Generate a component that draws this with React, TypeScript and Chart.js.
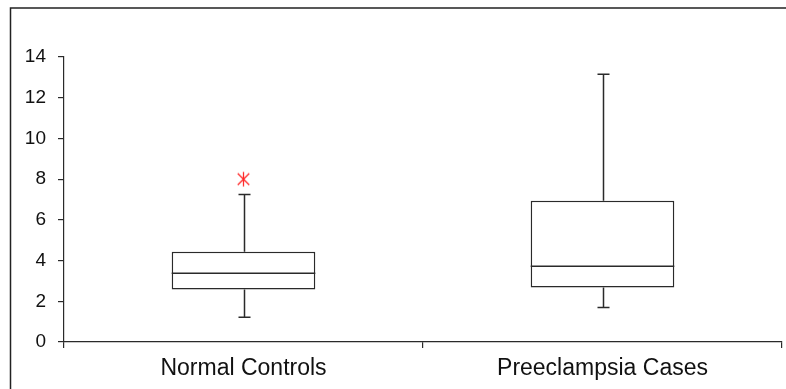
import React, { useEffect, useRef } from "react";
import { Chart, registerables } from "chart.js";

Chart.register(...registerables);

const categories = ["Normal Controls", "Preeclampsia Cases"];
const whiskerLow = [1.22, 1.7];
const q1 = [2.58, 2.68];
const median = [3.38, 3.72];
const q3 = [4.43, 6.94];
const whiskerHigh = [7.24, 13.15];
const outliers = [8.0, null];
const yTicks = [0, 2, 4, 6, 8, 10, 12, 14];

const FONT = "'Liberation Sans', Arial, sans-serif";
const LINE = "#2a2a2a";

function makeAsterisk(): HTMLCanvasElement {
  const c = document.createElement("canvas");
  const s = 17;
  c.width = s;
  c.height = s;
  const ctx = c.getContext("2d")!;
  ctx.strokeStyle = "#ff2a2a";
  ctx.lineWidth = 1.3;
  const m = s / 2;
  const r = 7.2;
  ctx.beginPath();
  ctx.moveTo(m, m - r);
  ctx.lineTo(m, m + r);
  const d = r * 0.8;
  ctx.moveTo(m - d, m - d);
  ctx.lineTo(m + d, m + d);
  ctx.moveTo(m + d, m - d);
  ctx.lineTo(m - d, m + d);
  ctx.stroke();
  return c;
}

const boxPlugin = {
  id: "boxWhiskers",
  afterDatasetsDraw(chart: any) {
    const meta = chart.getDatasetMeta(0);
    const y = chart.scales.y;
    const ctx = chart.ctx;
    ctx.save();
    ctx.strokeStyle = LINE;
    ctx.lineWidth = 1.5;
    meta.data.forEach((el: any, i: number) => {
      const cx = Math.round(el.x) + 0.5;
      const half = el.width / 2;
      const cap = 6;
      const pMed = y.getPixelForValue(median[i]);
      const pQ1 = y.getPixelForValue(q1[i]);
      const pQ3 = y.getPixelForValue(q3[i]);
      const pLo = y.getPixelForValue(whiskerLow[i]);
      const pHi = y.getPixelForValue(whiskerHigh[i]);
      ctx.beginPath();
      ctx.moveTo(el.x - half, pMed);
      ctx.lineTo(el.x + half, pMed);
      ctx.moveTo(cx, pQ3);
      ctx.lineTo(cx, pHi);
      ctx.moveTo(cx - cap, pHi);
      ctx.lineTo(cx + cap, pHi);
      ctx.moveTo(cx, pQ1);
      ctx.lineTo(cx, pLo);
      ctx.moveTo(cx - cap, pLo);
      ctx.lineTo(cx + cap, pLo);
      ctx.stroke();
    });
    ctx.restore();
  },
  afterDraw(chart: any) {
    const ctx = chart.ctx;
    ctx.save();
    ctx.strokeStyle = "#222";
    ctx.lineWidth = 1.5;
    ctx.beginPath();
    ctx.moveTo(10.5, chart.height);
    ctx.lineTo(10.5, 8);
    ctx.lineTo(chart.width, 8);
    ctx.stroke();
    ctx.restore();
  },
};

function zeroPad(s: any) {
  s.paddingLeft = 0;
  s.paddingRight = 0;
  s.paddingTop = 0;
  s.paddingBottom = 0;
}

export default function App() {
  const ref = useRef<HTMLCanvasElement | null>(null);
  useEffect(() => {
    document.body.style.margin = "0";
    const canvas = ref.current!;
    const chart = new Chart(canvas, {
      type: "bar",
      data: {
        labels: categories,
        datasets: [
          {
            type: "bar",
            data: q1.map((v, i) => [v, q3[i]]) as any,
            backgroundColor: "#ffffff",
            borderColor: LINE,
            borderWidth: 1.5,
            borderSkipped: false,
            barPercentage: 0.4,
            categoryPercentage: 1,
            order: 2,
          },
          {
            type: "line",
            data: outliers as any,
            showLine: false,
            pointStyle: makeAsterisk() as any,
            pointRadius: 8,
            borderColor: "#ff2a2a",
            backgroundColor: "#ff2a2a",
            order: 1,
          },
        ],
      },
      options: {
        animation: false,
        responsive: true,
        maintainAspectRatio: false,
        layout: { autoPadding: false, padding: { top: 57, right: 4, left: 0, bottom: 0 } },
        plugins: { legend: { display: false }, tooltip: { enabled: false } },
        scales: {
          x: {
            offset: true,
            grid: {
              offset: true,
              drawOnChartArea: false,
              drawTicks: true,
              tickLength: 6,
              color: LINE,
              lineWidth: 1.2,
            },
            border: { display: true, color: LINE, width: 1.2 },
            ticks: {
              color: "#111",
              font: { family: FONT, size: 23 },
              padding: 7,
            },
            afterFit: (s: any) => {
              s.height = 47;
              zeroPad(s);
            },
          },
          y: {
            min: 0,
            max: 14,
            afterBuildTicks: (s: any) => {
              s.ticks = yTicks.map((v) => ({ value: v }));
            },
            grid: {
              drawOnChartArea: false,
              drawTicks: true,
              tickLength: 6,
              color: LINE,
              lineWidth: 1.2,
            },
            border: { display: true, color: LINE, width: 1.2 },
            ticks: {
              color: "#111",
              font: { family: FONT, size: 19 },
              padding: 12,
            },
            afterFit: (s: any) => {
              s.width = 64;
              zeroPad(s);
            },
          },
        },
      },
      plugins: [boxPlugin],
    });
    return () => chart.destroy();
  }, []);
  return (
    <div style={{ width: 786, height: 389, position: "relative" }}>
      <canvas ref={ref} />
    </div>
  );
}
